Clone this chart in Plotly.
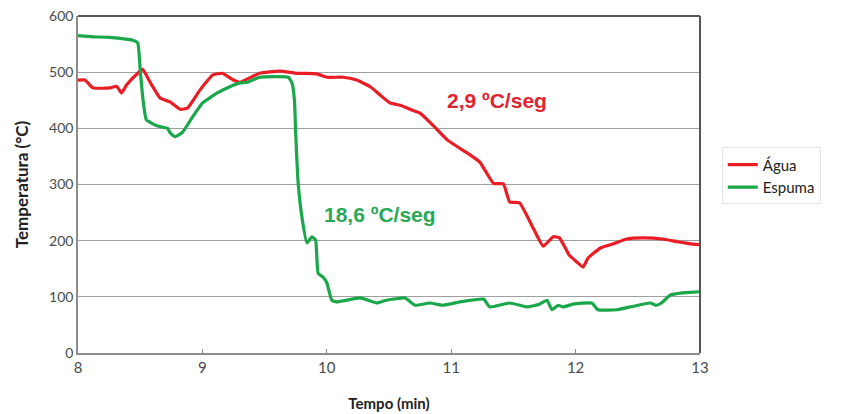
import plotly.graph_objects as go

# Água (red) series
agua_t = [8.0, 8.056, 8.12, 8.257, 8.31, 8.35, 8.39, 8.48, 8.52, 8.58, 8.66, 8.74, 8.82, 8.88,
          8.98, 9.085, 9.16, 9.25, 9.30, 9.46, 9.62, 9.76, 9.92, 10.0, 10.13, 10.24, 10.35,
          10.43, 10.51, 10.59, 10.69, 10.75, 10.85, 10.97, 11.13, 11.23, 11.34, 11.42, 11.47,
          11.55, 11.66, 11.74, 11.82, 11.87, 11.95, 12.01, 12.06, 12.10, 12.20, 12.30, 12.41,
          12.54, 12.70, 12.82, 12.94, 13.0]
agua_T = [486, 486, 472, 472, 475, 463, 477, 498, 505, 482, 454, 447, 434, 436,
          468, 495, 498, 486, 482, 498, 502, 498, 497, 491, 491, 486, 474,
          459, 445, 441, 432, 427, 406, 379, 356, 340, 302, 301, 269,
          267, 222, 190, 207, 205, 174, 162, 153, 169, 187, 194, 203,
          205, 203, 198, 194, 193]

# Espuma (green) series
esp_t = [8.0, 8.12, 8.26, 8.44, 8.48, 8.50, 8.52, 8.55, 8.64, 8.72, 8.74, 8.78, 8.84, 8.92,
         9.00, 9.12, 9.22, 9.30, 9.36, 9.46, 9.69, 9.72, 9.74, 9.75, 9.77, 9.80, 9.84, 9.88,
         9.91, 9.93, 9.97, 10.00, 10.04, 10.08, 10.27, 10.40, 10.48, 10.63, 10.71, 10.83,
         10.93, 11.07, 11.26, 11.31, 11.47, 11.61, 11.71, 11.77, 11.81, 11.86, 11.90, 11.98,
         12.13, 12.18, 12.33, 12.44, 12.60, 12.65, 12.69, 12.76, 12.86, 12.98, 13.0]
esp_T = [565, 563, 562, 557, 552, 504, 456, 415, 404, 400, 392, 385, 393, 420,
         445, 463, 474, 481, 482, 491, 491, 481, 450, 391, 302, 242, 196, 207,
         201, 142, 135, 125, 94, 91, 98, 89, 94, 98, 85, 89,
         85, 91, 96, 82, 89, 82, 87, 94, 77, 85, 82, 87,
         89, 77, 77, 82, 89, 85, 89, 103, 107, 109, 109]

x_ticks = [8, 9, 10, 11, 12, 13]
y_ticks = [0, 100, 200, 300, 400, 500, 600]

RED = "#EA1C24"
GREEN = "#1AA74A"

fig = go.Figure()
fig.add_trace(go.Scatter(x=agua_t, y=agua_T, mode="lines", name="Água",
                         line=dict(color=RED, width=3.2, shape="spline", smoothing=0.4)))
fig.add_trace(go.Scatter(x=esp_t, y=esp_T, mode="lines", name="Espuma",
                         line=dict(color=GREEN, width=3.2, shape="spline", smoothing=0.4)))

fig.add_annotation(x=11.37, y=449, text="<b>2,9 ºC/seg</b>", showarrow=False,
                   font=dict(family="Liberation Sans, Arial", size=21, color="#E32430"))
fig.add_annotation(x=10.43, y=247, text="<b>18,6 ºC/seg</b>", showarrow=False,
                   font=dict(family="Liberation Sans, Arial", size=21, color="#29A957"))

# dark frame on top and right
fig.add_shape(type="line", xref="paper", yref="paper", x0=0, x1=1, y0=1, y1=1,
              line=dict(color="#555555", width=2))
fig.add_shape(type="line", xref="paper", yref="paper", x0=1, x1=1, y0=0, y1=1,
              line=dict(color="#555555", width=2))

fig.update_layout(
    width=833, height=406,
    margin=dict(l=70, r=141, t=8, b=61),
    paper_bgcolor="white", plot_bgcolor="white",
    font=dict(family="Lato, Noto Sans", color="#444444"),
    legend=dict(x=1.035, y=0.61, xanchor="left", yanchor="top",
                bordercolor="#E4E4E4", borderwidth=1,
                font=dict(family="Lato, Noto Sans", size=15, color="#222222"),
                tracegroupgap=0),
    xaxis=dict(range=[8, 13], tickvals=x_ticks, showgrid=False, automargin=False,
               showline=True, linecolor="#8C8C8C", linewidth=1.5,
               ticks="inside", ticklen=4, tickcolor="#8C8C8C",
               tickfont=dict(size=15, color="#4A4A4A"),
               title=dict(text="<b>Tempo (min)</b>", standoff=24,
                          font=dict(size=15, color="#222222")),
               zeroline=False),
    yaxis=dict(range=[0, 600], tickvals=y_ticks, showgrid=True, automargin=False,
               gridcolor="#A0A0A0", gridwidth=1.3, ticklabeloverflow="allow",
               showline=True, linecolor="#8C8C8C", linewidth=1.5,
               tickfont=dict(size=14, color="#4A4A4A"),
               title=dict(text="<b>Temperatura (°C)</b>", standoff=16,
                          font=dict(size=17, color="#222222")),
               zeroline=False),
)

fig.write_html("out.html")
